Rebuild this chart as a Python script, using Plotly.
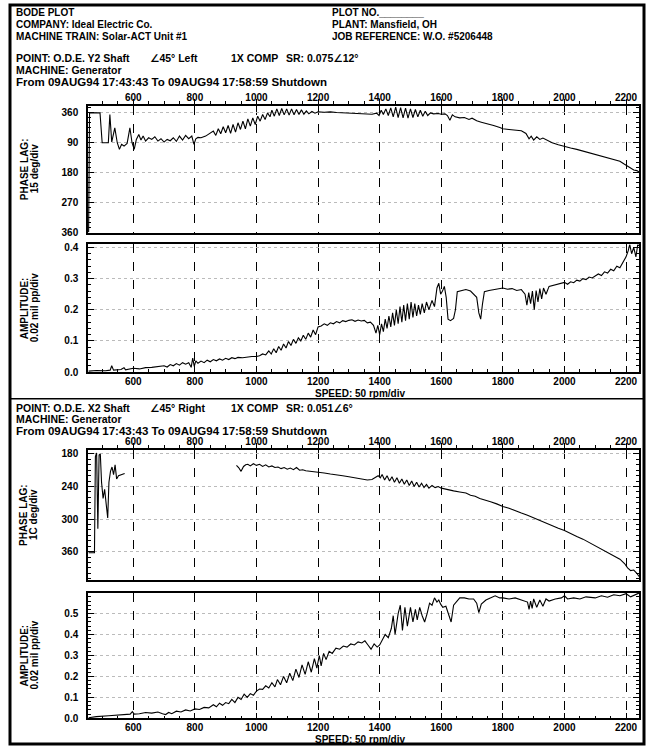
import plotly.graph_objects as go

W, H = 650, 753
FONT = "Liberation Sans, Arial, DejaVu Sans, sans-serif"
INK = "#000000"

# ---------------- data ----------------
X_RANGE = [453, 2242]
X_TICKS = [600, 800, 1000, 1200, 1400, 1600, 1800, 2000, 2200]
X_DOTTED = [500, 700, 900, 1100, 1300, 1500, 1700, 1900, 2100]

# Section 1 : O.D.E. Y2 shaft
ph1_rpm = [455, 458, 492, 499, 519, 524, 530, 540, 548, 555,
           562, 570, 580, 589, 596, 603, 610, 618, 625, 632,
           640, 650, 660, 670, 680, 690, 700, 710, 720, 730,
           740, 750, 760, 770, 780, 790, 797, 803, 810, 820,
           835, 850, 860, 868, 876, 884, 892, 900, 908, 916,
           924, 932, 940, 948, 956, 964, 972, 980, 988, 996,
           1004, 1012, 1020, 1028, 1036, 1044, 1050, 1058, 1066, 1074,
           1082, 1090, 1098, 1106, 1114, 1122, 1130, 1138, 1146, 1154,
           1162, 1170, 1180, 1190, 1200, 1220, 1240, 1260, 1280, 1300,
           1320, 1340, 1360, 1375, 1390, 1398, 1405, 1412, 1420, 1428,
           1436, 1444, 1452, 1460, 1468, 1476, 1484, 1492, 1500, 1508,
           1516, 1524, 1532, 1540, 1548, 1556, 1565, 1575, 1590, 1600,
           1612, 1620, 1628, 1636, 1645, 1660, 1675, 1690, 1700, 1715,
           1730, 1750, 1770, 1790, 1800, 1820, 1840, 1860, 1875, 1885,
           1892, 1900, 1910, 1920, 1930, 1945, 1960, 1980, 2000, 2020,
           2040, 2060, 2080, 2100, 2120, 2140, 2160, 2180, 2195, 2205,
           2215, 2225, 2235, 2242]
ph1_deg = [360, 0, 0, 90, 90, 5, 88, 45, 90, 110,
           95, 100, 92, 45, 90, 110, 80, 65, 82, 70,
           85, 75, 80, 72, 85, 78, 88, 80, 84, 75,
           86, 70, 82, 68, 78, 70, 95, 78, 74, 75,
           70, 62, 55, 68, 48, 63, 42, 60, 38, 62,
           35, 58, 30, 50, 25, 48, 18, 40, 15, 35,
           10, 25, 5, 20, 0, 12, -8, 10, -12, 8,
           -13, 6, -12, 7, -12, 6, -10, 5, -9, 4,
           -6, 3, -4, 1, -3, -2, -3, -1, 0, 1,
           2, 1, 3, 4, 1, 8, -8, 5, -12, 8,
           -15, 12, -17, 14, -16, 15, -14, 16, -12, 14,
           -10, 12, -8, 10, -5, 8, 0, 3, 2, 4,
           3, 8, 22, 6, 12, 15, 14, 20, 16, 24,
           28, 32, 38, 44, 48, 50, 52, 54, 62, 78,
           70, 82, 72, 80, 76, 84, 90, 96, 102, 106,
           110, 115, 120, 125, 130, 136, 140, 146, 155, 160,
           165, 172, 174, 178]

am1_rpm = [455, 480, 510, 525, 530, 536, 560, 570, 575, 600,
           620, 640, 660, 680, 700, 710, 720, 730, 740, 750,
           760, 770, 780, 788, 793, 798, 803, 810, 820, 830,
           840, 850, 860, 870, 880, 890, 900, 910, 920, 930,
           940, 955, 965, 985, 1000, 1010, 1020, 1030, 1040, 1048,
           1056, 1064, 1072, 1080, 1088, 1096, 1104, 1112, 1120, 1128,
           1136, 1144, 1152, 1160, 1168, 1176, 1184, 1192, 1200, 1210,
           1220, 1230, 1240, 1250, 1260, 1270, 1280, 1290, 1300, 1310,
           1320, 1330, 1340, 1350, 1360, 1370, 1380, 1388, 1394, 1400,
           1406, 1412, 1418, 1424, 1430, 1436, 1442, 1448, 1454, 1460,
           1466, 1472, 1478, 1484, 1490, 1496, 1502, 1508, 1514, 1520,
           1526, 1532, 1538, 1545, 1552, 1560, 1570, 1578, 1586, 1592,
           1598, 1604, 1610, 1616, 1622, 1630, 1640, 1646, 1652, 1665,
           1680, 1695, 1705, 1715, 1722, 1728, 1734, 1740, 1755, 1770,
           1785, 1800, 1815, 1830, 1845, 1860, 1872, 1878, 1884, 1890,
           1896, 1902, 1908, 1914, 1920, 1926, 1932, 1940, 1950, 1960,
           1975, 1990, 2000, 2010, 2020, 2030, 2040, 2050, 2060, 2070,
           2080, 2090, 2100, 2110, 2120, 2130, 2140, 2150, 2160, 2170,
           2180, 2190, 2200, 2207, 2212, 2218, 2225, 2232, 2238, 2242]
am1_mil = [0.003, 0.005, 0.004, 0.006, 0.020, 0.006, 0.008, 0.014, 0.007, 0.012,
           0.010, 0.014, 0.015, 0.018, 0.020, 0.016, 0.024, 0.020, 0.027, 0.022,
           0.030, 0.025, 0.030, 0.015, 0.045, 0.018, 0.036, 0.028, 0.035, 0.030,
           0.038, 0.033, 0.040, 0.036, 0.042, 0.038, 0.044, 0.040, 0.046, 0.043,
           0.047, 0.046, 0.048, 0.050, 0.050, 0.052, 0.058, 0.055, 0.068, 0.058,
           0.075, 0.062, 0.082, 0.070, 0.090, 0.077, 0.098, 0.085, 0.105, 0.092,
           0.110, 0.100, 0.118, 0.105, 0.125, 0.112, 0.135, 0.120, 0.145, 0.148,
           0.155, 0.150, 0.158, 0.155, 0.162, 0.158, 0.165, 0.162, 0.166, 0.168,
           0.163, 0.167, 0.164, 0.166, 0.158, 0.160, 0.150, 0.125, 0.150, 0.120,
           0.155, 0.130, 0.170, 0.140, 0.180, 0.145, 0.190, 0.150, 0.200, 0.155,
           0.210, 0.160, 0.215, 0.165, 0.220, 0.170, 0.225, 0.175, 0.220, 0.180,
           0.215, 0.185, 0.220, 0.190, 0.225, 0.200, 0.230, 0.210, 0.270, 0.285,
           0.250, 0.260, 0.275, 0.240, 0.170, 0.165, 0.172, 0.200, 0.258, 0.262,
           0.265, 0.260, 0.250, 0.240, 0.190, 0.170, 0.220, 0.258, 0.262, 0.265,
           0.268, 0.270, 0.266, 0.268, 0.262, 0.265, 0.250, 0.215, 0.255, 0.220,
           0.260, 0.200, 0.262, 0.225, 0.268, 0.235, 0.270, 0.250, 0.275, 0.278,
           0.280, 0.285, 0.288, 0.282, 0.290, 0.287, 0.295, 0.292, 0.300, 0.297,
           0.305, 0.302, 0.310, 0.315, 0.310, 0.322, 0.318, 0.330, 0.325, 0.340,
           0.335, 0.355, 0.370, 0.390, 0.410, 0.380, 0.400, 0.370, 0.410, 0.405]

# Section 2 : O.D.E. X2 shaft (phase has a low-speed part and a main part)
ph2a_rpm = [455, 474, 477, 481, 485, 489, 493, 497, 502, 507,
            512, 517, 521, 526, 531, 536, 541, 546, 552, 560,
            572]
ph2a_deg = [362, 362, 185, 178, 318, 182, 180, 232, 262, 245,
            272, 298, 232, 212, 204, 218, 200, 226, 220, 218,
            216]
ph2b_rpm = [935, 942, 950, 958, 965, 972, 980, 990, 1000, 1010,
            1020, 1030, 1040, 1050, 1060, 1070, 1080, 1090, 1100, 1110,
            1120, 1130, 1140, 1150, 1160, 1180, 1200, 1220, 1240, 1260,
            1280, 1300, 1320, 1340, 1360, 1375, 1385, 1395, 1402, 1408,
            1416, 1424, 1432, 1440, 1448, 1456, 1464, 1472, 1480, 1488,
            1496, 1504, 1512, 1520, 1528, 1536, 1544, 1552, 1560, 1570,
            1580, 1590, 1600, 1620, 1640, 1660, 1680, 1695, 1710, 1725,
            1740, 1760, 1780, 1800, 1820, 1840, 1860, 1880, 1900, 1920,
            1940, 1960, 1980, 2000, 2020, 2040, 2060, 2080, 2100, 2120,
            2140, 2160, 2180, 2195, 2205, 2215, 2225, 2235, 2242]
ph2b_deg = [201, 205, 212, 203, 200, 199, 202, 198, 201, 199,
            203, 200, 204, 202, 205, 204, 207, 205, 208, 206,
            209, 205, 210, 209, 211, 212, 213, 215, 217, 218,
            220, 222, 224, 226, 228, 227, 223, 220, 224, 218,
            228, 220, 230, 222, 232, 224, 234, 226, 236, 228,
            238, 230, 240, 232, 241, 234, 242, 236, 243, 238,
            242, 240, 243, 246, 248, 250, 252, 256, 258, 262,
            264, 268, 272, 277, 280, 285, 289, 293, 298, 303,
            308, 313, 317, 321, 327, 332, 337, 343, 349, 355,
            362, 368, 374, 382, 390, 395, 394, 400, 406]

am2_rpm = [455, 480, 520, 560, 590, 597, 603, 620, 640, 660,
           680, 695, 705, 715, 725, 740, 755, 770, 785, 800,
           815, 830, 845, 860, 870, 880, 890, 900, 910, 920,
           930, 940, 950, 960, 970, 980, 990, 1000, 1010, 1020,
           1030, 1040, 1050, 1060, 1068, 1078, 1088, 1098, 1108, 1118,
           1128, 1138, 1148, 1158, 1168, 1178, 1188, 1196, 1204, 1210,
           1218, 1226, 1236, 1246, 1258, 1270, 1282, 1294, 1306, 1318,
           1330, 1342, 1352, 1362, 1372, 1382, 1392, 1400, 1410, 1418,
           1428, 1438, 1444, 1450, 1460, 1467, 1474, 1482, 1490, 1500,
           1508, 1516, 1522, 1530, 1538, 1546, 1554, 1562, 1570, 1578,
           1586, 1592, 1598, 1605, 1615, 1625, 1632, 1640, 1650, 1660,
           1675, 1690, 1705, 1715, 1722, 1730, 1745, 1760, 1775, 1790,
           1800, 1820, 1840, 1860, 1880, 1885, 1890, 1895, 1900, 1910,
           1920, 1930, 1940, 1950, 1970, 1990, 2000, 2010, 2030, 2050,
           2070, 2100, 2120, 2140, 2160, 2180, 2200, 2215, 2230, 2242]
am2_mil = [0.003, 0.008, 0.012, 0.016, 0.020, 0.032, 0.020, 0.022, 0.028, 0.025,
           0.030, 0.022, 0.018, 0.028, 0.022, 0.034, 0.030, 0.040, 0.035, 0.045,
           0.042, 0.052, 0.050, 0.065, 0.055, 0.072, 0.062, 0.075, 0.070, 0.090,
           0.075, 0.100, 0.090, 0.115, 0.100, 0.118, 0.110, 0.130, 0.140, 0.138,
           0.155, 0.145, 0.170, 0.150, 0.185, 0.160, 0.200, 0.170, 0.215, 0.180,
           0.235, 0.195, 0.255, 0.210, 0.270, 0.220, 0.285, 0.240, 0.300, 0.250,
           0.310, 0.280, 0.320, 0.310, 0.335, 0.330, 0.345, 0.340, 0.355, 0.350,
           0.365, 0.360, 0.370, 0.350, 0.330, 0.355, 0.340, 0.350, 0.380, 0.400,
           0.385, 0.430, 0.490, 0.400, 0.500, 0.540, 0.420, 0.530, 0.440, 0.530,
           0.460, 0.520, 0.470, 0.530, 0.490, 0.460, 0.500, 0.550, 0.540, 0.575,
           0.555, 0.565, 0.545, 0.530, 0.535, 0.490, 0.460, 0.540, 0.560, 0.575,
           0.575, 0.570, 0.570, 0.550, 0.505, 0.545, 0.565, 0.575, 0.585, 0.575,
           0.575, 0.570, 0.575, 0.565, 0.555, 0.520, 0.560, 0.525, 0.570, 0.530,
           0.565, 0.535, 0.570, 0.560, 0.570, 0.575, 0.585, 0.570, 0.575, 0.570,
           0.580, 0.575, 0.585, 0.578, 0.590, 0.585, 0.595, 0.580, 0.592, 0.598]

PH1_TICKS = [0, 90, 180, 270, 360]
PH1_TEXT = ["360", "90", "180", "270", "360"]
PH2_TICKS = [180, 240, 300, 360]
AM1_TICKS = [0.0, 0.1, 0.2, 0.3, 0.4]
AM2_TICKS = [0.0, 0.1, 0.2, 0.3, 0.4, 0.5]

# ---------------- geometry helpers ----------------
def px(v):
    return v / W


def py(v):
    return 1 - v / H


XDOM = [px(88), px(639)]

fig = go.Figure()
LINE = dict(color=INK, width=1.1)
fig.add_trace(go.Scatter(x=ph1_rpm, y=ph1_deg, xaxis="x", yaxis="y", mode="lines", line=LINE))
fig.add_trace(go.Scatter(x=am1_rpm, y=am1_mil, xaxis="x2", yaxis="y2", mode="lines", line=LINE))
fig.add_trace(go.Scatter(x=ph2a_rpm + [None] + ph2b_rpm, y=ph2a_deg + [None] + ph2b_deg,
                         xaxis="x3", yaxis="y3", mode="lines", line=LINE, connectgaps=False))
fig.add_trace(go.Scatter(x=am2_rpm, y=am2_mil, xaxis="x4", yaxis="y4", mode="lines", line=LINE))


def xaxis(anchor, side):
    outside = side == "top"
    return dict(
        anchor=anchor, side=side, domain=XDOM, range=X_RANGE,
        tickmode="array", tickvals=X_TICKS,
        ticks="outside" if outside else "inside", ticklen=5 if outside else 6,
        tickwidth=1.2, tickcolor=INK,
        ticklabelstandoff=-6 if outside else -1,
        tickfont=dict(family=FONT, size=10, color=INK, weight="bold"),
        showgrid=True, gridcolor=INK, griddash="dash", gridwidth=1.2,
        showline=True, linecolor=INK, linewidth=1.5, mirror=True,
        zeroline=False,
        minor=dict(tickmode="linear", tick0=0, dtick=50,
                   ticks="outside" if outside else "inside",
                   ticklen=3, tickwidth=1, tickcolor=INK, showgrid=False),
    )


def dotted_x(over, anchor):
    return dict(overlaying=over, anchor=anchor, range=X_RANGE,
                tickmode="array", tickvals=X_DOTTED, showticklabels=False, ticks="",
                showgrid=True, gridcolor="#aaaaaa", griddash="dot", gridwidth=1,
                showline=False, zeroline=False)


def yaxis(anchor, dom, rng, tickvals, ticktext, minor_dtick):
    return dict(
        anchor=anchor, domain=[py(dom[1]), py(dom[0])], range=rng,
        tickmode="array", tickvals=tickvals, ticktext=ticktext,
        ticks="inside", ticklen=6, tickwidth=1.2, tickcolor=INK,
        ticklabelstandoff=6,
        tickfont=dict(family=FONT, size=10, color=INK, weight="bold"),
        showgrid=True, gridcolor="#bbbbbb", griddash="dot", gridwidth=1,
        showline=True, linecolor=INK, linewidth=1.5, mirror="ticks",
        zeroline=False,
        minor=dict(tickmode="linear", tick0=0, dtick=minor_dtick, ticks="inside",
                   ticklen=3, tickwidth=1, tickcolor=INK, showgrid=False),
    )


fig.update_layout(
    width=W, height=H, margin=dict(l=0, r=0, t=0, b=0),
    paper_bgcolor="white", plot_bgcolor="white", showlegend=False,
    font=dict(family=FONT, size=10, color=INK),
    xaxis=xaxis("y", "top"),
    xaxis2=xaxis("y2", "bottom"),
    xaxis3=xaxis("y3", "top"),
    xaxis4=xaxis("y4", "bottom"),
    xaxis5=dotted_x("x", "y"),
    xaxis6=dotted_x("x2", "y2"),
    xaxis7=dotted_x("x3", "y3"),
    xaxis8=dotted_x("x4", "y4"),
    yaxis=yaxis("x", (105, 233), [360.5, -21], PH1_TICKS, PH1_TEXT, 15),
    yaxis2=yaxis("x2", (245, 374), [0, 0.41], AM1_TICKS, [f"{v:.1f}" for v in AM1_TICKS], 0.02),
    yaxis3=yaxis("x3", (453, 584), [412, 173], PH2_TICKS, [str(v) for v in PH2_TICKS], 10),
    yaxis4=yaxis("x4", (597, 724), [0, 0.6], AM2_TICKS, [f"{v:.1f}" for v in AM2_TICKS], 0.02),
)

annotations = []


def text(s, x, y, anchor="left", bold=True, size=10, angle=0):
    annotations.append(dict(
        text=s, xref="paper", yref="paper", x=px(x), y=py(y),
        xanchor=anchor, yanchor="middle", showarrow=False, textangle=angle,
        font=dict(family=FONT, size=size, color=INK, weight="bold" if bold else "normal"),
    ))


# page header
text("BODE PLOT", 14, 10.5)
text("COMPANY: Ideal Electric Co.", 14, 22.5)
text("MACHINE TRAIN: Solar-ACT Unit #1", 14, 34.5)
text("PLOT NO.________", 330, 10.5)
text("PLANT: Mansfield, OH", 330, 22.5)
text("JOB REFERENCE: W.O. #5206448", 330, 34.5)

sections = [
    dict(top=57, point="POINT: O.D.E. Y2 Shaft", ang="∠45° Left", sr="SR: 0.075∠12°",
         speed_y=396),
    dict(top=410, point="POINT: O.D.E. X2 Shaft", ang="∠45° Right", sr="SR: 0.051∠6°",
         speed_y=745.5),
]
for s in sections:
    text(s["point"], 14, s["top"], size=10.5)
    text(s["ang"], 148, s["top"], size=10.5)
    text("1X COMP", 229, s["top"], size=10.5)
    text(s["sr"], 284, s["top"], size=10.5)
    text("MACHINE: Generator", 14, s["top"] + 11.5, size=10.5)
    text("From 09AUG94 17:43:43 To 09AUG94 17:58:59 Shutdown", 14, s["top"] + 23.5, size=11.5)
    text("SPEED: 50 rpm/div", 360, s["speed_y"], anchor="center", size=10)

# axis titles
for (c, l1, l2) in [(169, "PHASE LAG:", "15 deg/div"),
                    (309.5, "AMPLITUDE:", "0.02 mil pp/div"),
                    (518.5, "PHASE LAG:", "1C deg/div"),
                    (660.5, "AMPLITUDE:", "0.02 mil pp/div")]:
    text(l1, 24, c, anchor="center", angle=-90)
    text(l2, 34, c, anchor="center", angle=-90)

fig.update_layout(annotations=annotations)

fig.update_layout(shapes=[
    dict(type="rect", xref="paper", yref="paper", x0=px(10), x1=px(644), y0=py(750), y1=py(3),
         line=dict(color=INK, width=3)),
    dict(type="line", xref="paper", yref="paper", x0=px(10), x1=px(644), y0=py(401), y1=py(401),
         line=dict(color=INK, width=1.5)),
])

fig.write_html("out.html")
